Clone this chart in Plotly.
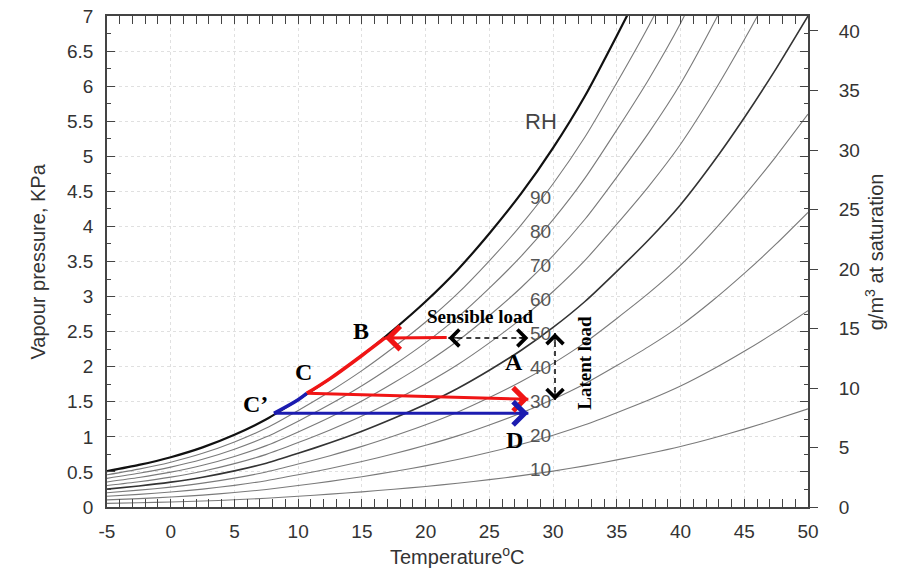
import numpy as np
import plotly.graph_objects as go

# ---------------- data ----------------
temp_c = [-5, -2.5, 0, 2.5, 5, 7.5, 10, 12.5, 15, 17.5, 20, 22.5, 25,
          27.5, 30, 32.5, 35, 37.5, 40, 42.5, 45, 47.5, 50]
sat_vp_kpa = [0.51, 0.60, 0.71, 0.85, 1.03, 1.25, 1.53, 1.83, 2.16, 2.53, 2.93, 3.38, 3.90,
              4.47, 5.12, 5.86, 6.72, 7.62, 8.62, 9.80, 11.1, 12.5, 14.0]
rh_levels = [10, 20, 30, 40, 50, 60, 70, 80, 90]
rh_label_temp = 29.0

x_ticks = [-5, 0, 5, 10, 15, 20, 25, 30, 35, 40, 45, 50]
x_tick_text = ["-5", "0", "5", "10", "15", "20", "25", "30", "35", "40", "45", "50"]
y_ticks = [0, 0.5, 1, 1.5, 2, 2.5, 3, 3.5, 4, 4.5, 5, 5.5, 6, 6.5, 7]
y_tick_text = ["0", "0.5", "1", "1.5", "2", "2.5", "3", "3.5", "4", "4.5", "5", "5.5", "6", "6.5", "7"]
y2_ticks = [0, 5, 10, 15, 20, 25, 30, 35, 40]

# process states (temperature degC, vapour pressure kPa)
state_B = (16.81, 2.41)
state_C = (10.67, 1.62)
state_Cp = (8.10, 1.336)
sensible_start = (21.65, 2.415)
reheat_end = (28.06, 1.535)
blue_end = (28.06, 1.336)
sensible_span_T = [21.78, 28.06]
sensible_span_P = [2.41, 2.41]
latent_span_T = [30.15, 30.15]
latent_span_P = [2.48, 1.525]

# ---------------- figure ----------------
SANS = "Liberation Sans, Arial, sans-serif"
SERIF = "Liberation Serif, Times New Roman, serif"
AX = "#444444"

fig = go.Figure()

for rh in rh_levels:
    dark = rh == 50
    fig.add_trace(go.Scatter(
        x=temp_c, y=[rh / 100 * v for v in sat_vp_kpa], mode="lines",
        line=dict(color="#333333" if dark else "#7a7a7a", width=1.6 if dark else 1.1,
                  shape="spline", smoothing=0.6),
        hoverinfo="skip"))

fig.add_trace(go.Scatter(x=temp_c, y=sat_vp_kpa, mode="lines",
                         line=dict(color="#111111", width=2.2, shape="spline", smoothing=0.6),
                         hoverinfo="skip"))

# dashed load arrows
fig.add_trace(go.Scatter(x=sensible_span_T, y=sensible_span_P, mode="lines",
                         line=dict(color="black", width=1.5, dash="5px,4px"), hoverinfo="skip"))
fig.add_trace(go.Scatter(x=latent_span_T, y=latent_span_P, mode="lines",
                         line=dict(color="black", width=1.5, dash="5px,4px"), hoverinfo="skip"))


def sat_between(t_lo, t_hi):
    pts = [(t, p) for t, p in zip(temp_c, sat_vp_kpa) if t_lo < t < t_hi]
    return [p[0] for p in pts], [p[1] for p in pts]


RED = "#f01515"
BLUE = "#1c1cb0"

# red process: A-side -> B, B -> C along saturation, C -> reheat end
fig.add_trace(go.Scatter(x=[sensible_start[0], state_B[0]], y=[sensible_start[1], state_B[1]],
                         mode="lines", line=dict(color=RED, width=3), hoverinfo="skip"))
tb, pb = sat_between(state_C[0], state_B[0])
fig.add_trace(go.Scatter(x=[state_B[0]] + tb[::-1] + [state_C[0]],
                         y=[state_B[1]] + pb[::-1] + [state_C[1]],
                         mode="lines", line=dict(color=RED, width=3.5, shape="spline"),
                         hoverinfo="skip"))
fig.add_trace(go.Scatter(x=[state_C[0], reheat_end[0]], y=[state_C[1], reheat_end[1]],
                         mode="lines", line=dict(color=RED, width=3), hoverinfo="skip"))

# blue process: C' -> D, C' -> C
fig.add_trace(go.Scatter(x=[blue_end[0], state_Cp[0]], y=[blue_end[1], state_Cp[1]],
                         mode="lines", line=dict(color=BLUE, width=3), hoverinfo="skip"))
tb2, pb2 = sat_between(state_Cp[0], state_C[0])
fig.add_trace(go.Scatter(x=[state_Cp[0]] + tb2 + [state_C[0]],
                         y=[state_Cp[1]] + pb2 + [state_C[1]],
                         mode="lines", line=dict(color=BLUE, width=3.5, shape="spline"),
                         hoverinfo="skip"))

# empty trace to activate the right axis
fig.add_trace(go.Scatter(x=[], y=[], yaxis="y2", hoverinfo="skip"))

annotations = []


def head(pt, dx, dy, color, width, size):
    annotations.append(dict(
        x=pt[0], y=pt[1], xref="x", yref="y", ax=dx, ay=dy,
        text=" ", font=dict(size=1), borderpad=0,
        showarrow=True, arrowhead=4, arrowwidth=width, arrowsize=size, arrowcolor=color))


head(state_B, 10, 0, RED, 3, 1.5)
head(reheat_end, -10, 0, RED, 3, 1.5)
head(blue_end, -10, 0, BLUE, 3, 1.5)
head((sensible_span_T[0], sensible_span_P[0]), 10, 0, "black", 1.3, 2.5)
head((sensible_span_T[1], sensible_span_P[1]), -10, 0, "black", 1.3, 2.5)
head((latent_span_T[0], latent_span_P[0]), 0, 10, "black", 1.3, 2.5)
head((latent_span_T[1], latent_span_P[1]), 0, -10, "black", 1.3, 2.5)

# RH labels
sat_at_label = float(np.interp(rh_label_temp, temp_c, sat_vp_kpa))
for rh in rh_levels:
    annotations.append(dict(x=rh_label_temp, y=rh / 100 * sat_at_label, xref="x", yref="y",
                            text=str(rh), showarrow=False, yshift=3,
                            font=dict(family=SANS, size=19, color="#555555")))
annotations.append(dict(x=29.04, y=5.49, xref="x", yref="y", text="RH", showarrow=False,
                        font=dict(family=SANS, size=22, color="#444444")))


def lab(text, x, y, size=24):
    annotations.append(dict(x=x, y=y, xref="x", yref="y", text="<b>%s</b>" % text,
                            showarrow=False, font=dict(family=SERIF, size=size, color="black")))


lab("A", 26.93, 2.07)
lab("B", 14.89, 2.51)
lab("C", 10.41, 1.92)
lab("C’", 6.68, 1.466)
lab("D", 27.0, 0.955)
lab("Sensible load", 24.33, 2.71, 19)
annotations.append(dict(x=32.47, y=2.05, xref="x", yref="y", text="<b>Latent load</b>",
                        textangle=-90, showarrow=False,
                        font=dict(family=SERIF, size=19, color="black")))

# axis titles
annotations.append(dict(x=-0.117, y=0.50, xref="paper", yref="paper",
                        text="Vapour pressure, KPa", textangle=-90, showarrow=False,
                        font=dict(family=SANS, size=20, color="#333333")))
annotations.append(dict(x=0.50, y=-0.128, xref="paper", yref="paper",
                        text="Temperature<sup>o</sup>C", showarrow=False,
                        font=dict(family=SANS, size=20, color="#333333")))
annotations.append(dict(x=1.115, y=0.519, xref="paper", yref="paper",
                        text="g/m<sup>3</sup> at saturation", textangle=-90, showarrow=False,
                        font=dict(family=SANS, size=20, color="#333333")))

axis_common = dict(showline=True, linecolor=AX, linewidth=1.5, zeroline=False,
                   ticks="inside", ticklen=8, tickwidth=1.3, tickcolor=AX,
                   tickfont=dict(family=SANS, size=19, color="#333333"),
                   showgrid=True, gridcolor="#e0e0e0", griddash="dot", gridwidth=1,
                   mirror="allticks", automargin=False, ticklabeloverflow="allow")

fig.update_layout(
    width=900, height=571,
    margin=dict(l=99, r=100, t=8, b=72),
    paper_bgcolor="white", plot_bgcolor="white",
    showlegend=False,
    xaxis=dict(range=[-5, 50], tickmode="array", tickvals=x_ticks, ticktext=x_tick_text,
               minor=dict(dtick=1, tick0=0, ticks="inside", ticklen=4, tickcolor=AX, showgrid=False),
               ticklabelstandoff=6, **axis_common),
    yaxis=dict(range=[0, 7], tickmode="array", tickvals=y_ticks, ticktext=y_tick_text,
               minor=dict(dtick=0.25, tick0=0, ticks="inside", ticklen=4, tickcolor=AX, showgrid=False),
               ticklabelstandoff=8, **axis_common),
    yaxis2=dict(range=[0, 41.26], overlaying="y", side="right", tickmode="array",
                tickvals=y2_ticks, ticks="outside", ticklen=9, tickwidth=1.3, tickcolor=AX,
                showgrid=False, zeroline=False, showline=False, automargin=False,
                ticklabeloverflow="allow",
                tickfont=dict(family=SANS, size=19, color="#333333"), ticklabelstandoff=17),
    annotations=annotations,
)

fig.write_html("out.html")
